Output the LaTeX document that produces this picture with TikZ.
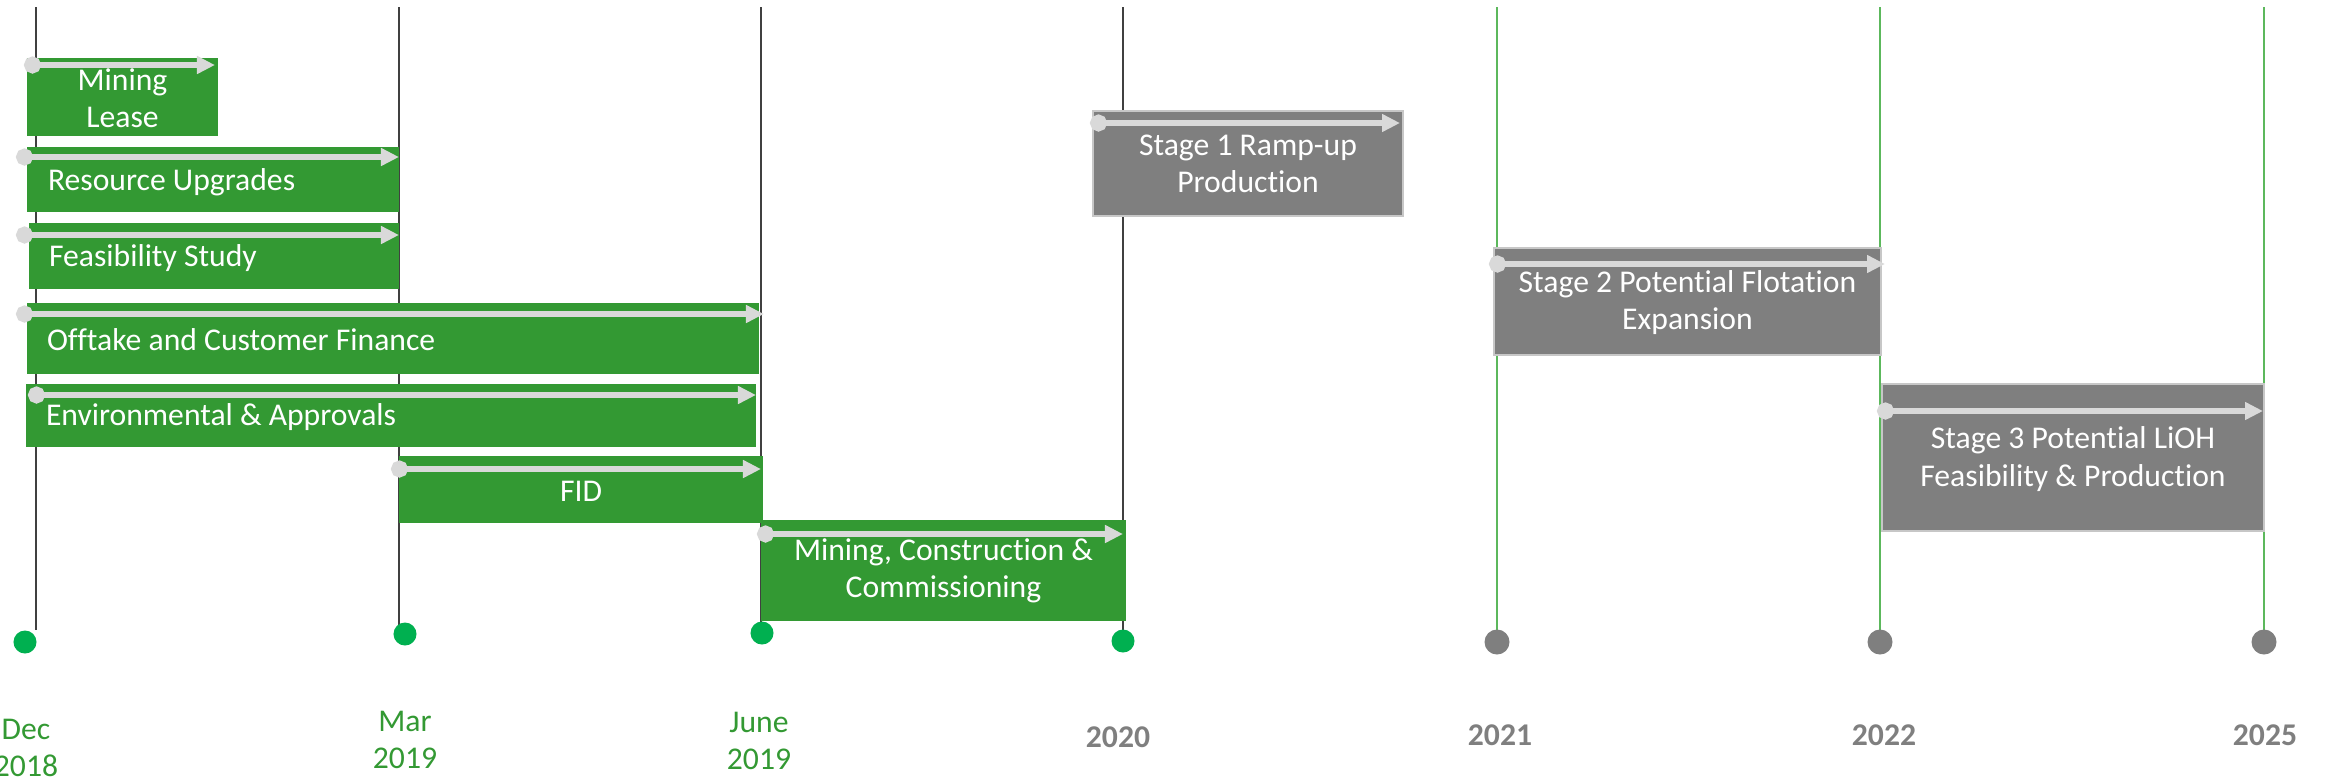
\documentclass[tikz,border=0pt]{standalone}
\usepackage{fontspec}
\setmainfont[Ligatures=NoCommon]{Carlito}
\usetikzlibrary{arrows.meta,fit}
\definecolor{barGreen}{HTML}{339933}
\definecolor{dotGreen}{HTML}{00B050}
\definecolor{barGray}{HTML}{7F7F7F}
\definecolor{trackGray}{HTML}{D9D9D9}
\definecolor{lineGreen}{HTML}{5CB85C}
\begin{document}
\begin{tikzpicture}[x=0.01cm,y=-0.01cm,
  every node/.style={font=\fontsize{9}{10.6}\selectfont},
  gbox/.style={fill=barGreen, inner sep=0pt},
  ybox/.style={fill=barGray, draw=black!22, line width=0.5pt, inner sep=0pt},
  lbl/.style={text=white, inner sep=0pt, anchor=west},
  clbl/.style={text=white, inner sep=0pt, align=center},
  trk/.style={draw=trackGray, line width=0.06cm,
    arrows={Circle[length=0.17cm]-Triangle[length=0.18cm,width=0.17cm]}},
  pastline/.style={draw=black!75, line width=0.45pt},
  futline/.style={draw=lineGreen, line width=0.45pt},
  gdot/.style={circle, fill=dotGreen, minimum size=0.23cm, inner sep=0pt},
  ydot/.style={circle, fill=barGray, minimum size=0.25cm, inner sep=0pt},
  month/.style={text=barGreen, align=center},
  year/.style={text=barGray, font=\fontsize{9}{10.6}\selectfont\bfseries}]
\useasboundingbox (0,0) rectangle (2326,781);

% milestone guide lines
\foreach \n/\x in {dec/36, mar/399, jun/761, y20/1123}{
  \coordinate (\n-top) at (\x,7);
  \coordinate (\n-bot) at (\x,630);
  \draw[pastline] (\n-top) -- (\n-bot);
}
\foreach \n/\x in {y21/1497, y22/1880, y25/2264}{
  \coordinate (\n-top) at (\x,7);
  \coordinate (\n-bot) at (\x,630);
  \draw[futline] (\n-top) -- (\n-bot);
}

% activity bars
\node[gbox, fit={(27,58) (218,136)}] (lease) {};
\node[gbox, fit={(27,147) (399,212)}] (res) {};
\node[gbox, fit={(29,223) (399,289)}] (feas) {};
\node[gbox, fit={(27,303) (759,374)}] (off) {};
\node[gbox, fit={(26,384) (756,447)}] (env) {};
\node[gbox, fit={(399,456) (763,523)}] (fid) {};
\node[gbox, fit={(761,520) (1126,621)}] (mcc) {};
\node[ybox, fit={(1093,111) (1403,216)}] (s1) {};
\node[ybox, fit={(1494,248) (1881,355)}] (s2) {};
\node[ybox, fit={(1882,384) (2264,531)}] (s3) {};

% bar captions
\node[clbl] (lease-t) at ([yshift=-0.015cm]lease.center) {Mining\\Lease};
\node[lbl] (res-t) at ([xshift=0.21cm,yshift=-0.025cm]res.west) {Resource Upgrades};
\node[lbl] (feas-t) at ([xshift=0.20cm,yshift=-0.02cm]feas.west) {Feasibility Study};
\node[lbl] (off-t) at ([xshift=0.20cm,yshift=-0.015cm]off.west) {Offtake and Customer Finance};
\node[lbl] (env-t) at ([xshift=0.20cm,yshift=-0.015cm]env.west) {Environmental \& Approvals};
\node[clbl] (fid-t) at ([yshift=-0.015cm]fid.center) {FID};
\node[clbl] (mcc-t) at (mcc.center) {Mining, Construction \&\\Commissioning};
\node[clbl] (s1-t) at (s1.center) {Stage 1 Ramp-up\\Production};
\node[clbl] (s2-t) at ([yshift=-0.01cm]s2.center) {Stage 2 Potential Flotation\\Expansion};
\node[clbl] (s3-t) at ([yshift=-0.015cm]s3.center) {Stage 3 Potential LiOH\\Feasibility \& Production};

% progress tracks
\foreach \n/\a/\b/\y in {lease/24/215/65, res/16/399/157, feas/16/399/235,
    off/16/764/314, env/28/756/395, fid/391/761/469, mcc/757/1123/534,
    s1/1090/1400/123, s2/1489/1885/264, s3/1877/2263/411}{
  \coordinate (\n-s) at (\a,\y);
  \coordinate (\n-e) at (\b,\y);
  \draw[trk] (\n-s) -- (\n-e);
}

% milestone dots
\node[gdot] (d-dec) at (25,642) {};
\node[gdot] (d-mar) at (405,634) {};
\node[gdot] (d-jun) at (762,633) {};
\node[gdot] (d-y20) at (1123,641) {};
\node[ydot] (d-y21) at (1497,642) {};
\node[ydot] (d-y22) at (1880,642) {};
\node[ydot] (d-y25) at (2264,642) {};

% milestone labels
\node[month] (t-dec) at (26,748) {Dec\\2018};
\node[month] (t-mar) at (405,740) {Mar\\2019};
\node[month] (t-jun) at (759,741) {June\\2019};
\node[year] (t-y20) at (1118,737) {2020};
\node[year] (t-y21) at (1500,735) {2021};
\node[year] (t-y22) at (1884,735) {2022};
\node[year] (t-y25) at (2265,735) {2025};
\end{tikzpicture}
\end{document}
